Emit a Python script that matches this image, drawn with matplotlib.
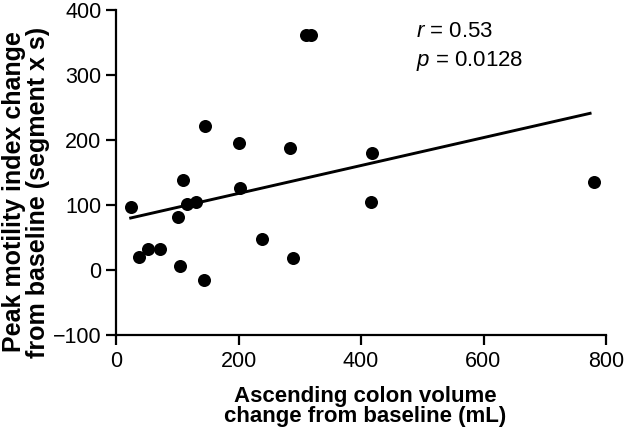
import numpy as np
import matplotlib
matplotlib.use("Agg")
import matplotlib.pyplot as plt

plt.rcParams['font.family'] = ['Liberation Sans', 'DejaVu Sans']
plt.rcParams['mathtext.fontset'] = 'custom'
plt.rcParams['mathtext.it'] = 'Liberation Sans:italic'
plt.rcParams['mathtext.rm'] = 'Liberation Sans'

# Ascending colon volume change (mL) vs peak motility index change (segment x s)
volume_change = [24, 38, 53, 72, 102, 104, 110, 116, 131, 144, 146,
                 200, 203, 238, 284, 289, 310, 319, 416, 418, 781]
motility_change = [97, 20, 32, 32, 82, 6, 138, 101, 105, -16, 222,
                   195, 126, 48, 187, 18, 362, 362, 105, 180, 136]

# fitted regression line
fit_x = [24, 774]
fit_y = [80, 241]

r_text = "0.53"
p_text = "0.0128"

fig = plt.figure(figsize=(6.25, 4.33), dpi=100)
ax = fig.add_axes([0.1856, 0.2263, 0.784, 0.7507])

ax.scatter(volume_change, motility_change, s=88, color='black', zorder=3,
           clip_on=False, linewidths=0)
ax.plot(fit_x, fit_y, color='black', lw=2.1)

ax.set_xlim(0, 800)
ax.set_ylim(-100, 400)
ax.set_xticks([0, 200, 400, 600, 800])
ax.set_yticks([-100, 0, 100, 200, 300, 400])
ax.set_yticklabels(['\u2212100', '0', '100', '200', '300', '400'])

for side in ['top', 'right']:
    ax.spines[side].set_visible(False)
for side in ['left', 'bottom']:
    ax.spines[side].set_linewidth(1.6)
ax.tick_params(direction='out', length=7, width=1.6, labelsize=15.5)
ax.tick_params(axis='x', pad=4.5)
ax.tick_params(axis='y', pad=3.5)

ax.text(490, 367, "$r$ = " + r_text, fontsize=16, va='center', ha='left')
ax.text(490, 321, "$p$ = " + p_text, fontsize=16, va='center', ha='left')

fig.text(0.585, 0.062, "Ascending colon volume\nchange from baseline (mL)",
         ha='center', va='center', fontsize=16, fontweight='bold',
         linespacing=0.95)
fig.text(0.042, 0.5566, "Peak motility index change\nfrom baseline (segment x s)",
         ha='center', va='center', rotation=90, fontsize=18,
         fontweight='bold', linespacing=1.0)

fig.savefig("out.png", dpi=100)
